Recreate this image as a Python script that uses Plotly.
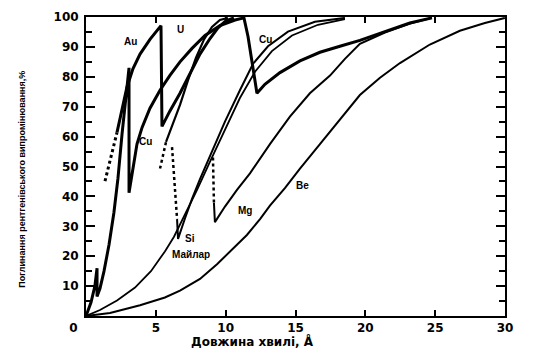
import plotly.graph_objects as go

# ---- data (wavelength in Å, absorption in %) ----
cu_x = [0, 0.36, 0.64, 0.79, 0.79, 1.00, 1.29, 1.65, 2.00, 2.29, 2.58, 2.86, 3.08, 3.08,
        3.36, 3.65, 4.01, 4.58, 5.30, 6.01, 6.73, 7.59, 8.52, 9.59, 10.67, 11.31, 11.60, 11.88, 12.24,
        12.81, 13.89, 15.32, 16.75, 18.18, 19.61, 21.40, 23.19, 24.77]
cu_y = [0, 4.6, 10.1, 16.0, 6.5, 9.2, 15.0, 23.9, 34.6, 46.1, 60.8, 73.9, 83.0, 41.2,
        50.0, 57.5, 63.0, 69.5, 75.5, 80.5, 85.0, 89.5, 93.8, 97.1, 99.0, 99.7, 93.5, 85.3, 74.5,
        77.5, 81.4, 85.3, 88.2, 90.2, 92.2, 95.1, 98.0, 99.7]

au_dot_x = [1.36, 2.22]
au_dot_y = [45.1, 61.4]
au_x = [2.22, 2.58, 2.93, 3.36, 3.87, 4.58, 5.37, 5.44, 6.01, 6.73, 7.44, 8.16, 8.88, 9.45, 10.02, 10.59]
au_y = [61.4, 69.6, 76.5, 82.7, 87.6, 92.5, 97.1, 63.4, 68.6, 74.5, 81.0, 87.6, 92.8, 96.4, 98.7, 99.7]

u_dot_x = [5.30, 5.73]
u_dot_y = [49.3, 58.2]
u_x = [5.73, 6.16, 6.73, 7.30, 7.87, 8.45, 9.02, 9.59, 10.16]
u_y = [58.2, 63.4, 70.6, 78.8, 86.3, 92.5, 96.7, 99.0, 99.7]

si_dot_x = [6.16, 6.52]
si_dot_y = [56.5, 32.4]
si_x = [6.52, 6.59, 7.09, 7.59, 8.16, 9.02, 9.95, 11.02, 11.95, 13.03, 14.46, 16.39, 18.54]
si_y = [32.4, 25.8, 32.7, 39.2, 45.8, 55.2, 65.0, 75.5, 84.3, 90.2, 95.1, 98.4, 99.7]

mg_dot_x = [9.09, 9.16]
mg_dot_y = [53.0, 37.9]
mg_x = [9.16, 9.23, 9.95, 10.81, 11.74, 13.17, 14.60, 16.03, 17.47, 18.54, 19.61, 21.40, 23.19, 24.77]
mg_y = [37.9, 31.4, 36.6, 42.2, 47.7, 57.5, 66.7, 74.5, 80.4, 86.0, 91.0, 94.8, 97.8, 99.7]

mylar_x = [0, 1.00, 2.22, 3.51, 4.65, 5.65, 6.30, 7.09, 7.95, 8.88, 9.95, 11.02, 12.10, 13.31, 14.75, 16.61, 18.54]
mylar_y = [0, 2.0, 5.2, 9.5, 15.0, 21.6, 26.5, 34.0, 42.2, 51.6, 62.4, 72.9, 81.7, 88.6, 93.8, 97.4, 99.3]

be_x = [0, 1.72, 3.87, 5.65, 6.73, 8.16, 9.38, 10.31, 11.52, 12.46, 13.17, 14.24, 15.32, 16.75,
        18.18, 19.61, 21.05, 22.48, 24.62, 26.77, 28.56, 29.99]
be_y = [0, 1.0, 3.6, 6.2, 8.5, 12.4, 17.3, 21.6, 27.1, 32.4, 36.9, 42.8, 49.3, 57.5,
        65.7, 73.9, 79.7, 84.6, 90.8, 95.4, 98.0, 99.7]

label_text = ["Au", "U", "Cu", "Cu", "Si", "Майлар", "Mg", "Be"]
label_x = [3.15, 6.75, 12.88, 4.25, 7.44, 7.52, 11.38, 15.53]
label_y = [91.8, 95.8, 92.5, 58.2, 25.8, 20.6, 35.3, 43.5]

x_ticks = [0, 5, 10, 15, 20, 25, 30]
x_ticktext = ["0\u00a0\u00a0\u00a0\u00a0\u00a0\u00a0", "5", "10", "15", "20", "25", "30"]
y_ticks = [0, 10, 20, 30, 40, 50, 60, 70, 80, 90, 100]
y_ticktext = ["", "10", "20", "30", "40", "50", "60", "70", "80", "90", "100"]

x_title = "Довжина хвилі, Å"
y_title = "Поглинання рентгенівського випромінювання,%"

# ---- figure ----
fig = go.Figure()

def add(x, y, w, dash="solid"):
    fig.add_trace(go.Scatter(x=x, y=y, mode="lines",
                             line=dict(color="black", width=w, dash=dash),
                             showlegend=False, hoverinfo="skip"))

add(be_x, be_y, 2)
add(mylar_x, mylar_y, 1.8)
add(mg_x, mg_y, 2)
add(mg_dot_x, mg_dot_y, 2.5, "dot")
add(si_x, si_y, 2)
add(si_dot_x, si_dot_y, 2.5, "dot")
add(u_x, u_y, 2.2)
add(u_dot_x, u_dot_y, 2.5, "dot")
add(au_x, au_y, 3)
add(au_dot_x, au_dot_y, 3, "dot")
add(cu_x, cu_y, 3)

for t, x, y in zip(label_text, label_x, label_y):
    fig.add_annotation(x=x, y=y, xref="x", yref="y", text=t, showarrow=False,
                       font=dict(family="Liberation Sans", size=10, color="black", weight="bold"),
                       xanchor="center", yanchor="middle")

fig.add_annotation(x=11.9, y=-0.085, xref="x", yref="paper", text=x_title, showarrow=False,
                   font=dict(family="DejaVu Sans", size=12, color="black", weight="bold"),
                   xanchor="center", yanchor="middle")
fig.add_annotation(x=-0.153, y=0.459, xref="paper", yref="paper", text=y_title, showarrow=False,
                   textangle=-90,
                   font=dict(family="Liberation Sans", size=9, color="black", weight="bold"),
                   xanchor="center", yanchor="middle")

axis_common = dict(showgrid=False, zeroline=False, showline=True, linecolor="black",
                   linewidth=2, mirror="ticks", ticks="inside", tickcolor="black",
                   tickfont=dict(family="DejaVu Sans", size=12, color="black", weight="bold"))

fig.update_xaxes(range=[0, 30], tickvals=x_ticks, ticktext=x_ticktext, ticklen=6, tickwidth=1.5,
                 **axis_common)
fig.update_yaxes(range=[0, 100], tickvals=y_ticks, ticktext=y_ticktext, ticklen=9, tickwidth=1.5,
                 ticklabelstandoff=3,
                 minor=dict(dtick=5, ticklen=6, ticks="inside", tickcolor="black", tickwidth=1.5),
                 **axis_common)

fig.update_layout(width=537, height=352, margin=dict(l=86, r=32, t=10, b=36),
                  paper_bgcolor="white", plot_bgcolor="white")

fig.write_html("out.html")
